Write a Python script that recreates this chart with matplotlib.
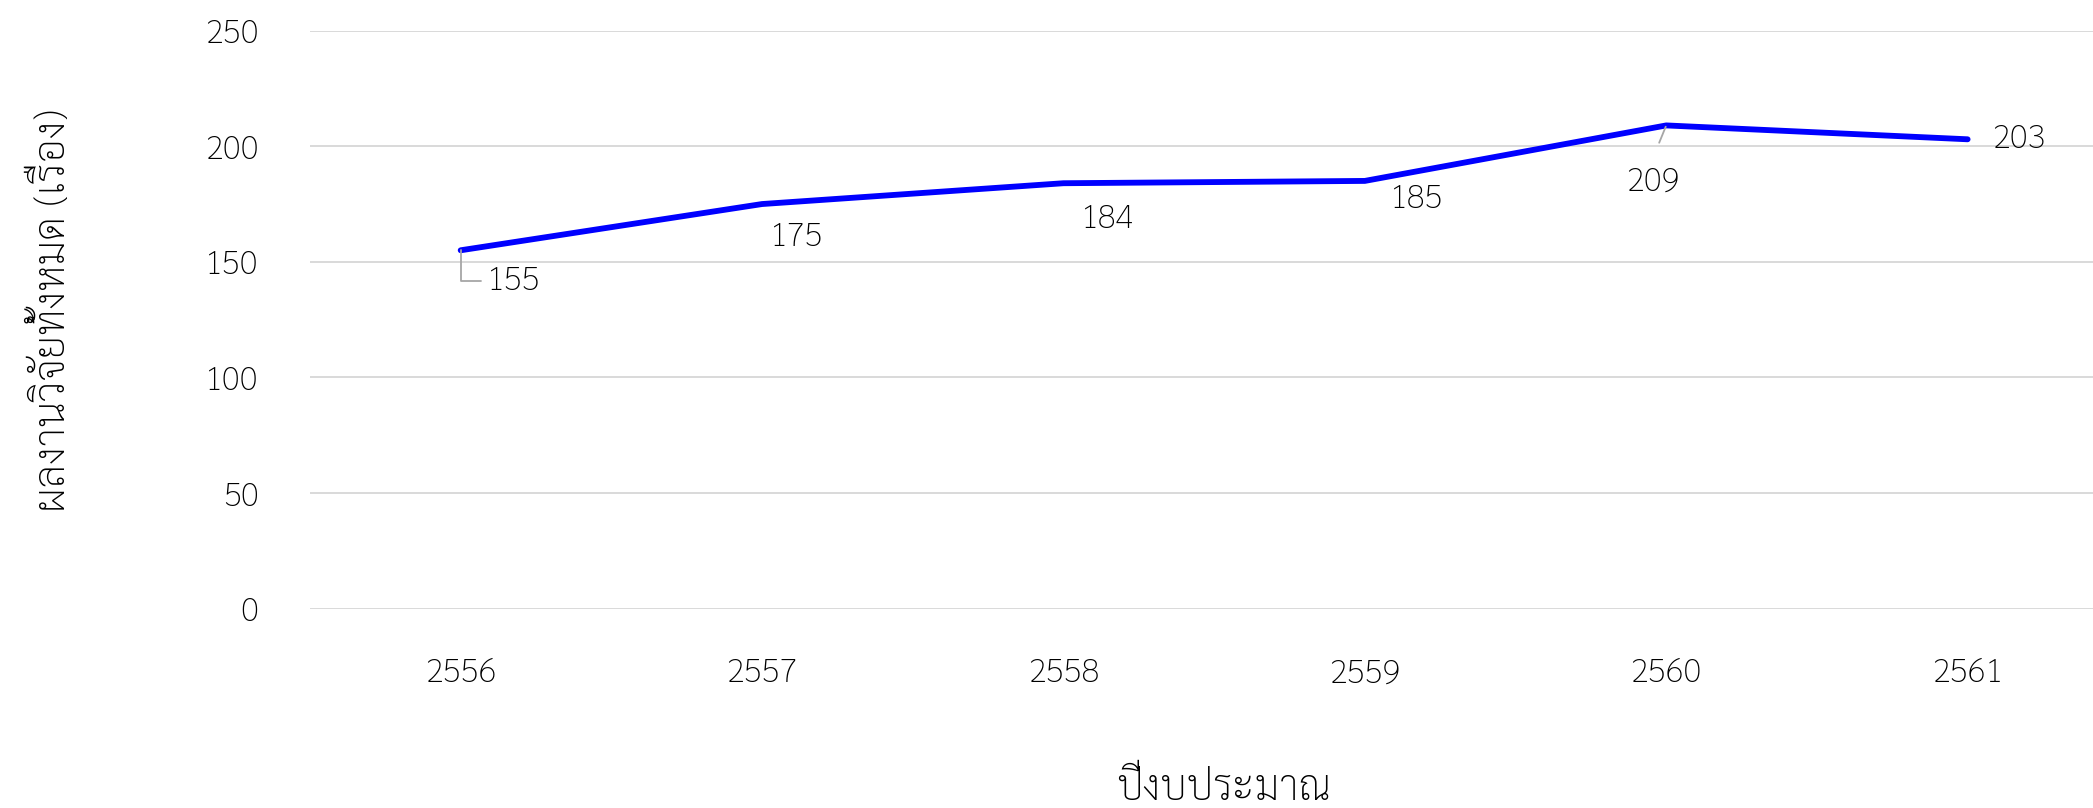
import matplotlib
matplotlib.use("Agg")
import matplotlib.pyplot as plt

# --- data ---
years = ["2556", "2557", "2558", "2559", "2560", "2561"]
counts = [155, 175, 184, 185, 209, 203]
x_title = "ปีงบประมาณ"
y_title = "ผลงานวิจัยทั้งหมด (เรื่อง)"

# label offsets (points) as placed in the original
label_offsets = [(38, -22), (25, -24), (32, -26), (37, -13), (-10, -41), (37, 0)]

plt.rcParams['font.family'] = ['Sarabun', 'Noto Sans Thai', 'DejaVu Sans']
plt.rcParams['font.weight'] = 'light'
text_col = "#000000"

fig = plt.figure(figsize=(20.93, 8.08), dpi=100)
ax = fig.add_axes([0.1481, 0.2467, 0.864, 0.7154])

xs = list(range(len(years)))
ax.plot(xs, counts, color="#0000FF", linewidth=4.2, solid_capstyle="round", zorder=3)

# data labels
for i, (x, v) in enumerate(zip(xs, counts)):
    dx, dy = label_offsets[i]
    props = None
    if i == 0:
        props = dict(arrowstyle="-", color="#a6a6a6", lw=1.3, shrinkA=2, shrinkB=0,
                     relpos=(0, 0.5), connectionstyle="angle,angleA=0,angleB=90,rad=0")
    elif i == 4:
        props = dict(arrowstyle="-", color="#a6a6a6", lw=1.3, shrinkA=16, shrinkB=1,
                     relpos=(0.45, 1))
    ax.annotate(str(v), xy=(x, v), xytext=(dx, dy), textcoords="offset points",
                ha="center", va="center", fontsize=24, color=text_col,
                arrowprops=props)

ax.set_xlim(-0.5, len(years) - 0.5)
ax.set_ylim(0, 250)
ax.set_yticks([0, 50, 100, 150, 200, 250])
ax.set_xticks(xs)
ax.set_xticklabels(years)

ax.grid(axis="y", color="#d9d9d9", linewidth=1.4)
ax.set_axisbelow(True)
for s in ax.spines.values():
    s.set_visible(False)
ax.tick_params(axis="both", length=0, labelsize=24, colors=text_col)
ax.tick_params(axis="y", pad=37)
ax.tick_params(axis="x", pad=35)

ax.set_xlabel(x_title, fontsize=30, color=text_col, va="center", fontweight="light")
ax.set_ylabel(y_title, fontsize=30, color=text_col, va="center", fontweight="light")
ax.xaxis.set_label_coords(0.505, -0.312)
ax.yaxis.set_label_coords(-0.142, 0.515)

fig.savefig("out.png", dpi=100)
